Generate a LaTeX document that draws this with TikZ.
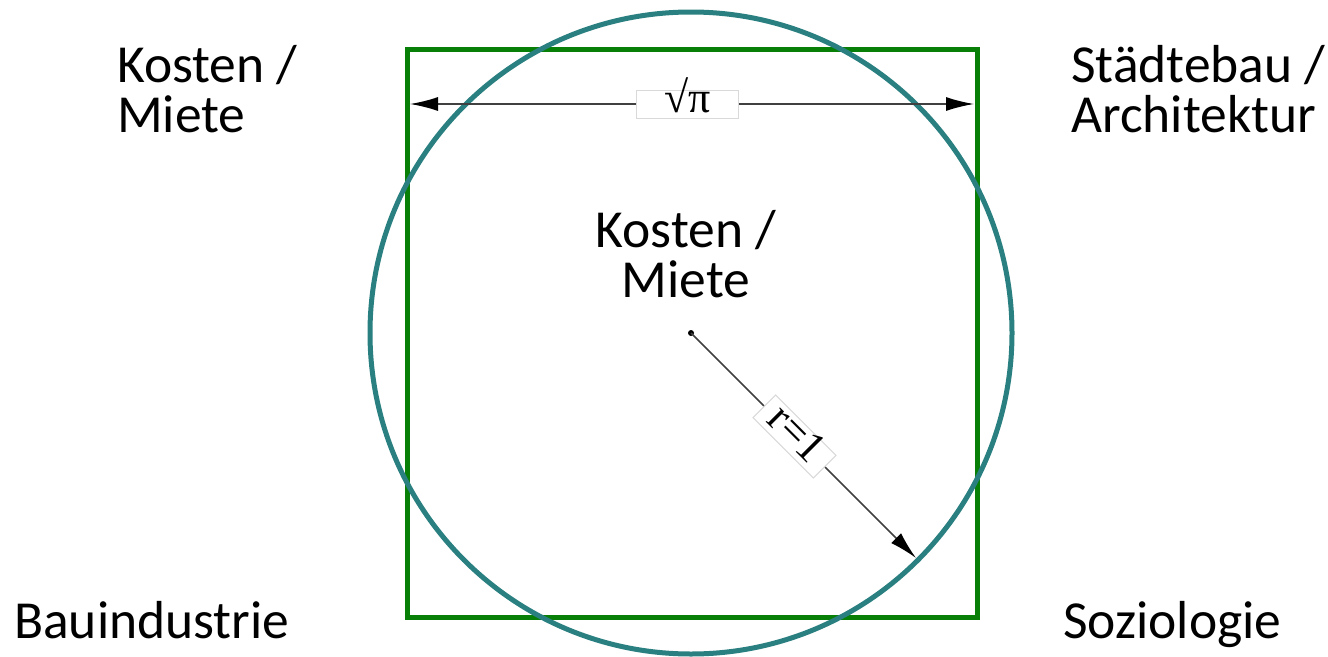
\documentclass[tikz,border=0pt]{standalone}
\usepackage{fontspec}
\setmainfont{Carlito}
\newfontfamily\seriffont{Liberation Serif}
\usetikzlibrary{arrows.meta}
\definecolor{sqgreen}{RGB}{8,128,8}
\definecolor{circteal}{RGB}{42,127,128}
\tikzset{
  lab/.style={font=\fontsize{53.5}{50}\selectfont, inner sep=0pt, align=left},
  clab/.style={font=\fontsize{53.5}{50}\selectfont, inner sep=0pt, align=center},
  dimline/.style={draw=black!75, line width=1.5pt, -{Latex[length=28pt,width=14pt,color=black]}},
  dimlab/.style={font=\seriffont\fontsize{44}{44}\selectfont, fill=white, draw=black!15, line width=1pt, inner xsep=28pt, inner ysep=0pt, text height=22pt, text depth=6pt},
}
\begin{document}
\begin{tikzpicture}[x=1pt,y=-1pt]
\useasboundingbox (0,0) rectangle (1328,656);
\coordinate (c) at (691,333);
\coordinate (sq1) at (407,49);
\coordinate (sq2) at (977,617);
\draw[sqgreen, line width=5pt] (sq1) rectangle (sq2);
\draw[circteal, line width=5pt] (c) circle[radius=321];
% width dimension
\coordinate (wl) at (410,104);
\coordinate (wr) at (974,104);
\draw[dimline, {Latex[length=28pt,width=14pt,color=black]}-{Latex[length=28pt,width=14pt,color=black]}] (wl) -- node[dimlab, pos=0.492] {√π} (wr);
% radius
\coordinate (rt) at (916,558);
\fill[black] (c) circle[radius=3];
\draw[dimline] (c) -- node[dimlab, sloped, pos=0.46, inner xsep=12pt, text height=26pt] {r=1} (rt);
% labels
\node[lab, anchor=north west] (tl) at (117,45) {Kosten /\\Miete};
\node[lab, anchor=north west] (tr) at (1071,45) {Städtebau /\\Architektur};
\node[clab, anchor=north] (ct) at (686,210) {Kosten /\\Miete};
\node[lab, anchor=base west] (bl) at (14,638) {Bauindustrie};
\node[lab, anchor=base west] (br) at (1063,638) {Soziologie};
\end{tikzpicture}
\end{document}
